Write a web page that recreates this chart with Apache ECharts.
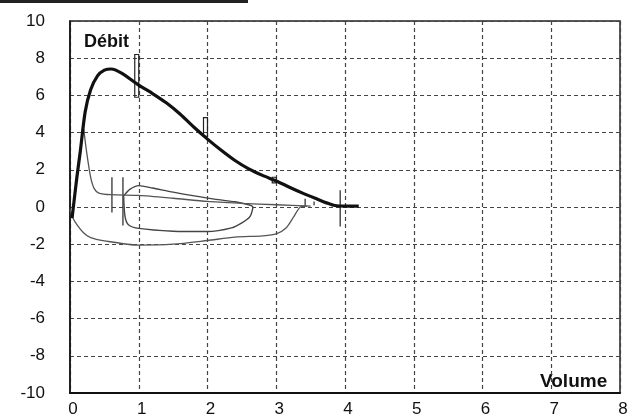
<!DOCTYPE html>
<html>
<head>
<meta charset="utf-8">
<script src="https://cdn.jsdelivr.net/npm/echarts@6/dist/echarts.min.js"></script>
<style>
  html, body { margin: 0; padding: 0; background: #fff; }
  #chart { width: 638px; height: 419px; }
</style>
</head>
<body>
<div id="chart"></div>
<script>
// courbe débit-volume : volume (x), débit (y)
var xTicks = [0, 1, 2, 3, 4, 5, 6, 7, 8];
var yTicks = [-10, -8, -6, -4, -2, 0, 2, 4, 6, 8, 10];

// expiration forcée (trait épais)
var forced = [
    [0.03, -0.6], [0.1, 1.6], [0.15, 3.0], [0.22, 5.1], [0.3, 6.3], [0.4, 7.05],
    [0.5, 7.36], [0.6, 7.42], [0.75, 7.2], [1.0, 6.55], [1.2, 6.1], [1.4, 5.6],
    [1.6, 5.0], [1.8, 4.3], [2.0, 3.65], [2.2, 3.05], [2.4, 2.5], [2.6, 2.05],
    [2.8, 1.7], [3.0, 1.4], [3.2, 1.05], [3.4, 0.72], [3.6, 0.42], [3.75, 0.2],
    [3.85, 0.08], [4.0, 0.05], [4.2, 0.05]
];

// premier essai (chute après le pic)
var trial1 = [
    [0.2, 4.2], [0.24, 3.0], [0.3, 1.6], [0.35, 1.0], [0.42, 0.75], [0.6, 0.66],
    [1.0, 0.62], [1.5, 0.47], [2.0, 0.3], [2.5, 0.2], [3.0, 0.12], [3.5, 0.05]
];

// boucle courante
var tidal = [
    [0.78, 0.6], [0.87, 0.95], [1.0, 1.15], [1.2, 1.02], [1.5, 0.8], [2.0, 0.48],
    [2.4, 0.28], [2.6, 0.12], [2.66, 0.0], [2.62, -0.5], [2.5, -0.85], [2.35, -1.12],
    [2.0, -1.32], [1.5, -1.3], [1.0, -1.15], [0.85, -0.95], [0.8, -0.5], [0.78, 0.6]
];

// inspiration
var inspir = [
    [0.0, -0.1], [0.03, -0.5], [0.1, -0.95], [0.2, -1.4], [0.3, -1.65], [0.5, -1.82],
    [1.0, -2.05], [1.5, -2.0], [2.0, -1.8], [2.4, -1.62], [2.8, -1.55], [3.0, -1.45],
    [3.15, -1.1], [3.25, -0.55], [3.35, 0.0], [3.45, 0.05]
];

// repères VEMS (petits rectangles) : [volume, bas, haut]
var marks = [[1.0, 5.9, 8.2], [2.0, 3.8, 4.8], [3.0, 1.3, 1.6]];
// traits verticaux : [volume, bas, haut]
var ticks = [[0.61, -0.3, 1.6], [0.77, -1.0, 1.6], [3.42, 0.05, 0.45], [3.55, 0.1, 0.3], [3.93, -1.05, 0.9]];

var chart = echarts.init(document.getElementById('chart'));

var option = {
    animation: false,
    grid: {
        left: 70, right: 18, top: 21, bottom: 26,
        show: true, borderColor: '#222', borderWidth: 1.5
    },
    graphic: [
        { type: 'rect', shape: { x: 0, y: 0, width: 248, height: 3 }, style: { fill: '#222' } },
        { type: 'text', left: 84, top: 33, style: { text: 'Débit', fontFamily: 'Liberation Sans', fontSize: 18, fontWeight: 'bold', fill: '#111' } },
        { type: 'text', left: 540, top: 372, style: { text: 'Volume', fontFamily: 'Liberation Sans', fontSize: 19, fontWeight: 'bold', fill: '#111' } }
    ],
    xAxis: {
        type: 'value', min: xTicks[0], max: xTicks[xTicks.length - 1], interval: 1,
        axisLine: { onZero: false, lineStyle: { color: '#111', width: 2 } },
        axisTick: { show: false },
        axisLabel: { margin: 8, fontFamily: 'Liberation Sans', fontSize: 17, color: '#111', padding: [0, 0, 0, 6] },
        splitLine: { lineStyle: { color: '#444', width: 1.2, type: [4, 3] } }
    },
    yAxis: {
        type: 'value', min: yTicks[0], max: yTicks[yTicks.length - 1], interval: 2,
        axisLine: { show: true, onZero: false, lineStyle: { color: '#111', width: 1.5 } },
        axisTick: { show: false },
        axisLabel: { margin: 25, fontFamily: 'Liberation Sans', fontSize: 17, color: '#111', padding: [7, 0, 0, 0] },
        splitLine: { lineStyle: { color: '#444', width: 1.2, type: [4, 3] } }
    },
    series: [
        { type: 'line', data: inspir, showSymbol: false, smooth: 0.25, lineStyle: { color: '#555', width: 1.3 } },
        { type: 'line', data: tidal, showSymbol: false, smooth: 0.25, lineStyle: { color: '#444', width: 1.4 } },
        { type: 'line', data: trial1, showSymbol: false, smooth: 0.25, lineStyle: { color: '#555', width: 1.3 } },
        { type: 'line', data: forced, showSymbol: false, smooth: 0.25, lineStyle: { color: '#111', width: 3.2 } },
        {
            type: 'custom', data: marks,
            renderItem: function (params, api) {
                var lo = api.coord([api.value(0), api.value(1)]);
                var hi = api.coord([api.value(0), api.value(2)]);
                return {
                    type: 'rect',
                    shape: { x: hi[0] - 4, y: hi[1], width: 4, height: lo[1] - hi[1] },
                    style: { fill: 'none', stroke: '#222', lineWidth: 1.2 }
                };
            }
        },
        {
            type: 'custom', data: ticks,
            renderItem: function (params, api) {
                var lo = api.coord([api.value(0), api.value(1)]);
                var hi = api.coord([api.value(0), api.value(2)]);
                return {
                    type: 'line',
                    shape: { x1: lo[0], y1: lo[1], x2: hi[0], y2: hi[1] },
                    style: { stroke: '#333', lineWidth: 1.3 }
                };
            }
        }
    ]
};

chart.setOption(option);
</script>
</body>
</html>
